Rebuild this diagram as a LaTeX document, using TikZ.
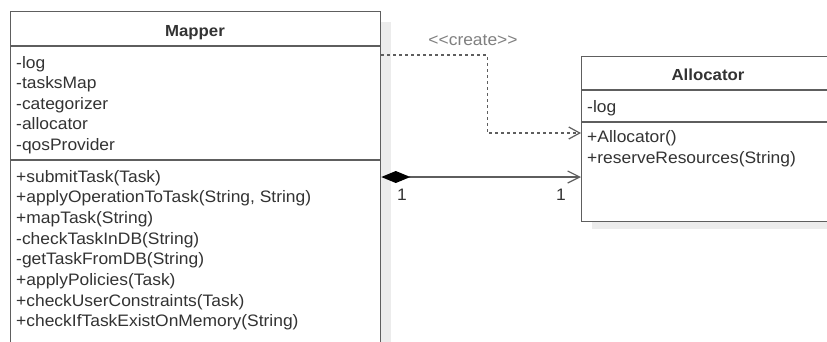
\documentclass[tikz,border=0pt]{standalone}
\usepackage{fontspec}
\setmainfont[FakeStretch=1.05]{Liberation Sans}
\usetikzlibrary{arrows.meta,calc}
\definecolor{txt}{HTML}{333333}
\definecolor{ln}{HTML}{5E5E5E}
\definecolor{shd}{HTML}{ECECEC}
\definecolor{lbl}{HTML}{808080}
\begin{document}
\begin{tikzpicture}[x=1pt,y=-1pt,
  every node/.style={font=\fontsize{16.6}{20.6}\selectfont, text=txt, inner sep=0pt},
  box/.style={draw=ln, line width=1.3pt, fill=white, anchor=north west},
  divider/.style={draw=ln, line width=1.3pt},
  member/.style={anchor=base west},
  title/.style={anchor=base, font=\fontsize{16}{20}\selectfont\bfseries},
  dep/.style={draw=ln, line width=1.4pt, dash pattern=on 3pt off 3pt, -{Straight Barb[length=11pt,width=12pt,line width=1.2pt]}},
  comp/.style={draw=ln, line width=1.3pt, {Diamond[length=29pt,width=12pt,fill=black,color=black]}-{Straight Barb[length=12pt,width=12pt,line width=1.2pt]}}
]
\useasboundingbox (0,0) rectangle (827,341);
\clip (0,0) rectangle (827,341);
\fill[white] (0,0) rectangle (827,341);
% shadows
\fill[shd] (381,22) rectangle (391,345);
\fill[shd] (592,222) rectangle (840,229);
% Mapper
\node[box, minimum width=370pt, minimum height=336pt] (mapper) at (10,11) {};
\draw[divider] (10,46) -- (380,46);
\draw[divider] (10,160) -- (380,160);
\node[title] (mtitle) at (195,36) {Mapper};
\foreach \t [count=\i] in {-log,-tasksMap,-categorizer,-allocator,-qosProvider}
  \node[member] (ma\i) at (16,{68+20.5*(\i-1)}) {\t};
\foreach \t [count=\i] in {+submitTask(Task),{+applyOperationToTask(String, String)},+mapTask(String),-checkTaskInDB(String),-getTaskFromDB(String),+applyPolicies(Task),+checkUserConstraints(Task),+checkIfTaskExistOnMemory(String)}
  \node[member] (mm\i) at (16,{182+20.7*(\i-1)}) {\t};
% Allocator
\node[box, minimum width=254pt, minimum height=165pt] (alloc) at (581,56) {};
\draw[divider] (581,90) -- (835,90);
\draw[divider] (581,122) -- (835,122);
\node[title] (atitle) at (708,80) {Allocator};
\node[member] (aa1) at (587,112) {-log};
\node[member] (am1) at (587,142) {+Allocator()};
\node[member] (am2) at (587,163) {+reserveResources(String)};
% connectors
\draw[dep] ($(mapper.north east)+(0,44)$) -- ++(106,0) |- ($(alloc.north west)+(0,77)$);
\node[anchor=base, text=lbl] (create) at (473,45) {{<}{<}create{>}{>}};
\draw[comp] ($(mapper.north east)+(0,166)$) -- ($(alloc.north west)+(0,121)$);
\node[anchor=base] (m1) at (402,200) {1};
\node[anchor=base] (m2) at (561,200) {1};
\end{tikzpicture}
\end{document}
